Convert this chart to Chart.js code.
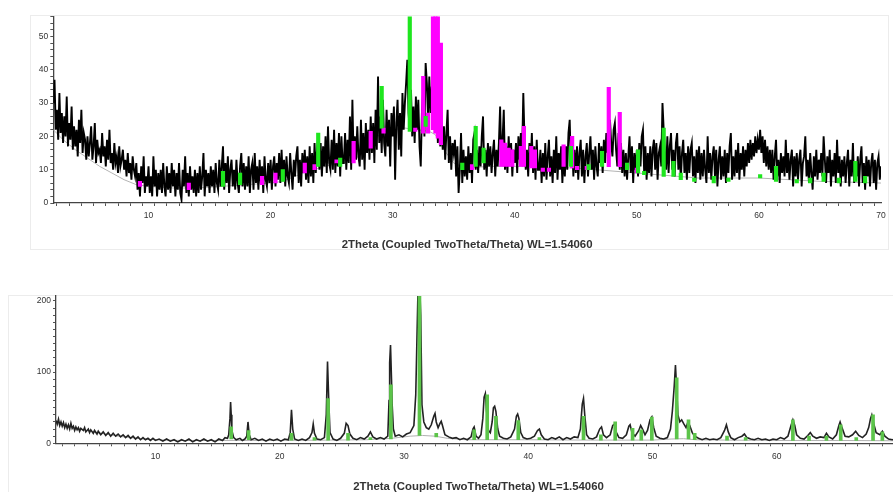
<!DOCTYPE html>
<html><head><meta charset="utf-8">
<script src="https://cdn.jsdelivr.net/npm/chart.js@4.4.1/dist/chart.umd.min.js"></script>
<style>
html,body{margin:0;padding:0;background:#fff;overflow:hidden;width:893px;height:492px;position:relative}
#f1{position:absolute;left:30px;top:15px;width:857px;height:233px;border:1px solid #ececec}
#f2{position:absolute;left:8px;top:295px;width:900px;height:220px;border:1px solid #ececec}
#c1{position:absolute;left:0;top:0}
#c2{position:absolute;left:0;top:270px}
</style></head><body>
<div id="f1"></div><div id="f2"></div>
<canvas id="c1" width="893" height="260"></canvas>
<canvas id="c2" width="915" height="230"></canvas>
<script>
// ---------------- DATA ----------------
const xTitle = '2Theta (Coupled TwoTheta/Theta) WL=1.54060';
const topXLabels = [10, 20, 30, 40, 50, 60, 70];
const topYLabels = [0, 10, 20, 30, 40, 50];
const botXLabels = [10, 20, 30, 40, 50, 60, 70];
const botYLabels = [0, 100, 200];

// top scan: 2θ from 2.2 in 0.1° steps
const topStart = 2.2, topStep = 0.1;
const topCounts = [
30,37,22,28,19,33,21,27,
18,26,20,32,17,24,19,29,16,23,
17,22,14,25,18,28,15,21,19,13,
20,14,18,23,13,17,24,12,19,15,
16,12,21,14,17,11,19,13,22,12,
15,10,18,12,14,9,17,11,13,16,
10,13,8,15,9,12,7,14,10,8,
12,4,9,2,11,6,14,3,8,5,
11,3,8,2,14,5,10,2,9,4,
10,3,12,5,2,11,4,9,3,12,
5,10,2,9,4,12,3,1,10,5,
14,3,9,2,11,4,8,3,10,2,
9,3,11,4,8,15,2,10,5,9,
3,11,5,10,3,12,6,4,13,5,
11,17,4,12,6,14,3,10,13,5,
10,4,13,6,3,11,15,5,12,4,
11,5,14,3,10,12,4,15,6,11,
4,13,6,11,3,14,7,5,12,6,
13,4,11,14,5,12,7,15,6,16,
7,13,5,14,8,6,15,9,4,13,
8,14,17,6,13,5,15,9,16,7,
14,6,17,8,15,6,18,9,16,20,
10,18,8,17,11,20,9,23,12,10,
19,10,22,9,18,11,21,8,20,12,
12,21,10,19,12,26,10,31,13,20,
13,23,14,11,25,13,21,10,24,15,
22,13,26,15,24,12,28,16,38,18,
26,15,31,18,14,28,17,25,11,27,
20,29,7,24,31,16,27,14,33,22,
30,36,43,27,22,34,20,29,18,32,
22,31,17,11,28,34,20,42,36,25,
38,27,35,23,33,21,30,18,27,17,
25,16,23,13,21,28,12,20,10,18,
15,19,8,17,3,10,21,6,16,8,
14,7,17,9,15,6,19,21,10,16,
9,17,11,20,26,10,16,8,18,11,
17,9,15,19,8,16,11,18,29,12,
19,28,10,17,9,20,12,18,8,16,
12,18,9,20,13,21,14,33,19,10,
16,8,18,11,21,9,17,7,19,10,
10,16,6,15,8,18,7,14,19,8,
14,6,16,9,20,7,15,10,17,6,
15,8,17,10,21,25,11,18,8,16,
9,17,7,15,19,8,16,6,14,18,
8,15,20,10,16,7,17,11,8,18,
12,17,9,19,12,21,15,22,25,18,
14,22,24,16,11,21,10,18,9,16,
8,15,7,14,20,9,17,6,15,10,
16,8,18,11,20,22,9,17,7,15,
9,17,8,16,19,10,18,7,15,17,
11,30,22,15,10,20,9,17,21,10,
16,8,18,21,10,17,7,15,19,9,
15,7,17,9,16,18,8,14,6,16,
9,17,7,15,8,16,10,6,20,9,
15,7,14,17,8,16,5,13,17,7,
14,8,16,6,15,9,17,21,7,14,
8,16,9,18,7,15,10,17,8,16,
11,18,12,19,13,18,14,20,15,19,
16,22,15,20,12,19,11,17,10,16,
9,16,7,14,19,8,13,6,15,9,
14,8,19,9,15,7,13,16,5,14,
8,15,7,13,16,5,12,14,20,8,
13,6,15,9,4,14,8,16,7,13,
9,15,8,20,13,6,14,9,16,5,
13,8,15,6,19,9,14,5,13,8,
14,6,12,16,5,13,8,18,6,12,
8,14,5,13,17,6,12,4,14,8,
13,5,12,15,6,13,4,12,14,7,
11
];
const topBackground = [[2.2,22],[3,19],[4,16],[5,13.5],[6,11],[7,9],[8,7],[9,5.5],[10,5],[12,4.5],[14,4.5],[16,5],[18,5.5],[20,6],[21,6.5],[22,8],[23,9.5],[24,10.5],[25,11.5],[26,12],[27,13.5],[28,16],[29,21],[30,22],[31,22.5],[32,22],[33,21.5],[33.5,20.5],[34,17],[35,12],[36,10.5],[38,11],[40,11],[45,10.5],[50,9],[55,7.5],[60,7.5],[65,6.5],[70,6]];
// reference phase sticks: [2θ, from, to]
const topGreenPeaks = [[16.1,5,9.5],[17.5,5.5,9],[21.0,6.5,10],[23.9,11,21],[25.7,11,13.5],[29.1,22.5,35],[31.4,21.5,60],[32.7,23,26],[35.7,10,12],[36.8,11,23],[37.45,12,16.5],[44.6,11,17],[46.05,10,11.5],[47.15,11,15.5],[49.2,10,12],[50.1,9,16],[50.6,8.5,9.5],[52.2,8,22.5],[53.0,8,12.5],[53.6,7,9],[54.7,6.5,7.5],[56.3,6,8],[57.5,6.5,7.5],[60.1,7.5,8.5],[61.4,6.5,11],[63.1,6,7],[64.2,6,7.5],[65.3,6.5,9],[66.55,6,7.5],[67.9,6.5,12.5],[68.7,6,8]];
const topMagentaPeaks = [[9.3,5,6.5],[13.3,4,6],[19.3,5.5,8],[20.4,6,9],[22.8,9,12],[23.6,10,11.5],[25.4,12,13],[26.8,12,18.5],[28.2,16.5,21.5],[29.25,21,22.5],[31.85,21.5,22.5],[32.5,21,38],[32.9,21,27],[33.3,22,60],[33.5,21,60],[33.7,19.5,60],[33.95,17.5,48],[36.5,10,11.5],[38.9,11,19],[39.2,11,18],[39.5,11,16.5],[39.8,11,16],[40.5,11,17],[40.75,11,23],[41.35,10.5,17],[41.65,10.5,16],[42.3,9.5,10.5],[42.8,9.5,10.5],[44.0,11,17.5],[44.7,10.5,20],[45.1,10,11],[45.9,10,11],[47.7,10.9,34.7],[48.6,10.9,27.2],[50.0,9,10.5]];

// bottom scan: [2θ, counts]
const bottomScan = [[2.0,32],[2.1,27],[2.2,34],[2.3,25],[2.4,30],[2.5,24],[2.6,29],[2.7,22],[2.8,27],[2.9,21],[3.0,26],[3.1,20],[3.2,28],[3.3,21],[3.4,24],[3.5,18],[3.6,23],[3.7,19],[3.8,22],[3.9,17],[4.0,21],[4.2,18],[4.3,22],[4.4,16],[4.6,20],[4.7,15],[4.8,19],[5.0,14],[5.1,18],[5.3,13],[5.4,17],[5.6,12],[5.8,16],[6.0,11],[6.2,15],[6.4,10],[6.6,14],[6.8,10],[7.0,13],[7.2,9],[7.4,12],[7.6,8],[7.8,11],[8.0,7],[8.2,10],[8.4,6],[8.6,9],[8.8,5],[9.0,8],[9.2,5],[9.4,7],[9.6,4],[9.8,7],[10.0,4],[10.3,6],[10.6,3],[10.9,6],[11.2,3],[11.5,5],[11.8,2],[12.1,5],[12.4,3],[12.7,6],[13.0,2],[13.3,5],[13.6,3],[13.9,6],[14.2,3],[14.5,5],[14.8,2],[15.1,6],[15.4,4],[15.6,8],[15.8,7],[15.9,12],[16.0,35],[16.05,58],[16.1,40],[16.15,18],[16.3,8],[16.5,5],[16.8,7],[17.0,4],[17.2,6],[17.35,10],[17.45,30],[17.55,12],[17.7,5],[18.0,7],[18.3,4],[18.6,6],[18.9,3],[19.2,6],[19.5,4],[19.8,6],[20.1,3],[20.4,6],[20.7,5],[20.85,15],[20.95,47],[21.05,20],[21.2,6],[21.5,4],[21.8,6],[22.1,4],[22.4,8],[22.6,15],[22.7,27],[22.8,14],[23.0,6],[23.3,5],[23.6,8],[23.75,40],[23.85,115],[23.95,60],[24.05,15],[24.3,6],[24.6,4],[24.9,7],[25.2,14],[25.35,28],[25.5,25],[25.65,13],[25.9,7],[26.2,5],[26.5,8],[26.8,6],[27.1,10],[27.3,16],[27.5,9],[27.8,6],[28.1,8],[28.4,6],[28.7,10],[28.8,60],[28.85,113],[28.92,138],[29.0,90],[29.05,55],[29.15,20],[29.3,10],[29.6,12],[29.9,9],[30.2,13],[30.5,15],[30.8,25],[30.95,68],[31.05,150],[31.15,230],[31.25,230],[31.35,180],[31.45,54],[31.6,30],[31.8,22],[32.0,20],[32.2,26],[32.4,38],[32.5,42],[32.6,30],[32.75,22],[32.9,28],[33.0,31],[33.1,25],[33.3,12],[33.6,9],[33.9,7],[34.2,8],[34.5,5],[34.8,7],[35.1,5],[35.4,9],[35.55,20],[35.65,23],[35.8,10],[36.0,7],[36.2,12],[36.35,35],[36.45,65],[36.55,70],[36.65,45],[36.8,18],[36.95,15],[37.1,30],[37.2,50],[37.3,52],[37.4,45],[37.55,20],[37.7,10],[38.0,7],[38.3,6],[38.6,9],[38.9,20],[39.05,38],[39.15,41],[39.25,35],[39.4,15],[39.6,8],[39.9,6],[40.2,7],[40.5,10],[40.75,18],[40.9,20],[41.05,12],[41.3,6],[41.6,5],[41.9,8],[42.2,6],[42.5,9],[42.8,5],[43.1,8],[43.4,6],[43.7,9],[44.0,8],[44.2,20],[44.35,55],[44.45,63],[44.55,40],[44.7,12],[44.9,7],[45.2,6],[45.5,9],[45.75,20],[45.9,23],[46.05,12],[46.3,8],[46.6,12],[46.8,25],[46.95,27],[47.1,15],[47.3,8],[47.6,7],[47.9,12],[48.1,24],[48.2,26],[48.35,15],[48.6,10],[48.9,18],[49.05,25],[49.2,20],[49.4,12],[49.6,18],[49.8,33],[49.95,37],[50.1,22],[50.3,10],[50.6,7],[50.9,6],[51.2,8],[51.45,20],[51.6,45],[51.75,80],[51.85,110],[51.95,75],[52.05,40],[52.2,30],[52.35,33],[52.5,28],[52.7,22],[52.85,30],[53.0,25],[53.2,15],[53.4,10],[53.7,7],[54.0,5],[54.3,7],[54.6,5],[54.9,6],[55.2,5],[55.5,8],[55.8,18],[55.95,26],[56.1,16],[56.3,8],[56.6,5],[56.9,8],[57.2,10],[57.4,13],[57.6,8],[57.9,6],[58.2,5],[58.5,7],[58.8,5],[59.1,6],[59.4,4],[59.7,6],[60.0,5],[60.3,8],[60.6,6],[60.9,10],[61.15,25],[61.3,33],[61.45,25],[61.6,12],[61.9,7],[62.2,6],[62.5,11],[62.7,15],[62.9,10],[63.2,7],[63.5,9],[63.8,8],[64.0,14],[64.2,9],[64.5,6],[64.8,12],[65.0,25],[65.1,30],[65.25,22],[65.5,10],[65.8,9],[66.1,12],[66.35,17],[66.6,11],[66.9,8],[67.2,13],[67.4,22],[67.55,35],[67.65,40],[67.8,28],[68.0,15],[68.3,12],[68.5,17],[68.7,10],[69.0,6],[69.3,5],[69.6,6],[69.9,5],[70.0,5]];
const bottomBackground = [[2,28],[3,24],[4,20],[5,16],[6,13],[7,10],[8,8],[9,6],[10,5],[12,4],[16,4],[20,4],[24,4.5],[27,5],[29,7],[30.5,10],[31.5,11],[32.5,10],[33.5,7],[35,5],[40,5],[45,4.5],[50,4.5],[51.5,6],[52.5,6.5],[53.5,5],[56,4.5],[60,4],[65,4],[70,3.5]];
const bottomGreenPeaks = [[16.1,6,23],[17.5,5,18],[20.95,4.5,14],[22.8,4.5,8],[23.9,4.5,63],[25.5,4.5,14],[27.3,5,8],[28.95,6,82],[31.25,11,215],[32.6,9,14],[35.65,5,19],[36.7,5,68],[37.4,5,38],[39.2,5,32],[40.9,5,8],[44.45,5,38],[45.85,4.5,12],[47.0,4.5,30],[48.4,4.5,21],[49.1,4.5,19],[49.95,4.5,37],[51.95,6,92],[52.9,6,33],[53.4,5,14],[56.0,4.5,10],[57.5,4.5,8],[61.3,4,33],[62.6,4,10],[64.0,4,10],[65.15,4,26],[66.4,4,8],[67.75,4,40],[68.5,4,16]];

// ---------------- CHARTS ----------------
const FONT = "'Liberation Sans', Arial, sans-serif";
function stepTicks(a, b, s) { const t = []; for (let v = a; v <= b + 1e-9; v += s) t.push({ value: Math.round(v * 1000) / 1000 }); return t; }
const pts = arr => arr.map(p => ({ x: p[0], y: p[1] }));
const bars = arr => arr.map(p => ({ x: p[0], y: [p[1], p[2]] }));
const topTrace = topCounts.map((c, i) => ({ x: Math.round((topStart + topStep * i) * 100) / 100, y: c }));

function axisX(min, max, tickFrom, labels, h, titlePad) {
  return {
    type: 'linear', min, max, offset: false,
    afterBuildTicks: s => { s.ticks = stepTicks(tickFrom, max, 1); },
    afterFit: s => { s.height = h; },
    grid: { display: true, drawOnChartArea: false, drawTicks: true, tickLength: 3, color: '#555' },
    border: { display: true, color: '#444', width: 1.3 },
    ticks: { autoSkip: false, maxRotation: 0, padding: 5, color: '#333', font: { size: 8.5, family: FONT },
      callback: v => labels.includes(v) ? String(v) : '' },
    title: { display: true, text: xTitle, color: '#333', font: { size: 11.4, weight: 'bold', family: FONT }, padding: { top: 0, bottom: titlePad } }
  };
}
function axisY(min, max, step, labels, w) {
  return {
    type: 'linear', min, max,
    afterBuildTicks: s => { s.ticks = stepTicks(min, max, step); },
    afterFit: s => { s.width = w; },
    grid: { display: true, drawOnChartArea: false, drawTicks: true, tickLength: 3, color: '#555' },
    border: { display: true, color: '#444', width: 1.3 },
    ticks: { autoSkip: false, padding: 2, color: '#333', font: { size: 8.5, family: FONT },
      callback: v => labels.includes(v) ? String(v) : '' }
  };
}
const common = {
  responsive: false, animation: false, devicePixelRatio: 1,
  plugins: { legend: { display: false }, tooltip: { enabled: false } },
  elements: { point: { radius: 0 }, line: { tension: 0 } }
};

new Chart(document.getElementById('c1'), {
  type: 'line',
  data: { datasets: [
    { data: pts(topBackground), borderColor: '#b4b4b4', borderWidth: 1, order: 4 },
    { data: topTrace, borderColor: '#000', borderWidth: 1.9, order: 3 },
    { type: 'bar', data: bars(topMagentaPeaks), backgroundColor: '#ff00ff', borderWidth: 0, barThickness: 3.5, grouped: false, order: 2, clip: 0 },
    { type: 'bar', data: bars(topGreenPeaks), backgroundColor: '#1ee61e', borderWidth: 0, barThickness: 3.5, grouped: false, order: 1, clip: 0 }
  ] },
  options: Object.assign({}, common, {
    layout: { padding: { top: 16.5, right: 12, left: 0, bottom: 0 } },
    scales: { x: axisX(2.2, 70, 3, topXLabels, 57, 8.5), y: axisY(0, 56, 2, topYLabels, 53.3) }
  })
});

new Chart(document.getElementById('c2'), {
  type: 'line',
  data: { datasets: [
    { data: pts(bottomBackground), borderColor: '#b0b0b0', borderWidth: 1, order: 4 },
    { data: pts(bottomScan), borderColor: '#222', borderWidth: 1.6, order: 3 },
    { type: 'bar', data: bars(bottomGreenPeaks), backgroundColor: '#5cc44a', borderWidth: 0, barThickness: 3, grouped: false, order: 1, clip: 0 }
  ] },
  options: Object.assign({}, common, {
    layout: { padding: { top: 26, right: 14, left: 0, bottom: 0 } },
    scales: { x: axisX(2, 70, 2, botXLabels, 56.7, 6.5), y: axisY(0, 207, 10, botYLabels, 56) }
  })
});
</script>
</body></html>
